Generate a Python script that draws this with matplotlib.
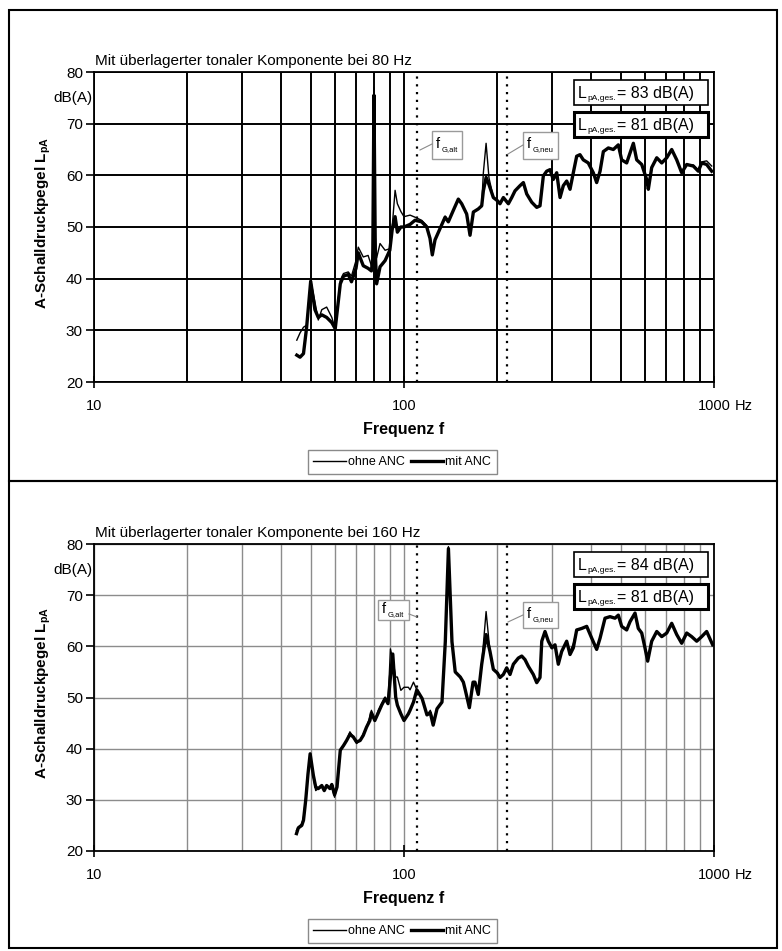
import matplotlib
matplotlib.use('Agg')
import matplotlib.pyplot as plt
from matplotlib.patches import Rectangle
from matplotlib.lines import Line2D
from matplotlib.ticker import FixedLocator, NullFormatter, MultipleLocator

plt.rcParams['font.family'] = ['Liberation Sans', 'DejaVu Sans']
plt.rcParams['mathtext.fontset'] = 'custom'
plt.rcParams['mathtext.rm'] = 'Liberation Sans'
plt.rcParams['mathtext.bf'] = 'Liberation Sans:bold'

W, H = 782, 951

# ---- data: upper chart (tonal component at 80 Hz) ----
top_freq = [45.1, 46.2, 47.4, 48.5, 50.0, 51.6, 52.9, 54.3, 56.3, 58.5,
            60.0, 62.3, 63.8, 66.1, 67.7, 70.0, 71.2, 73.9, 76.6, 78.5,
            79.3, 80.0, 80.8, 81.6, 83.7, 86.9, 90.0, 91.6, 93.6, 95.2,
            97.7, 100.0, 104.6, 108.5, 114.0, 118.4, 121.3, 123.4, 125.9, 130.7,
            135.7, 139.0, 144.2, 149.7, 153.5, 159.3, 163.3, 167.4, 173.7, 178.1,
            180.3, 184.0, 188.0, 194.2, 200.0, 204.0, 209.2, 217.1, 222.6, 228.1,
            236.7, 242.7, 248.8, 258.2, 268.0, 274.6, 281.5, 288.6, 295.8, 303.0,
            310.9, 318.7, 326.5, 334.8, 343.2, 351.7, 360.6, 369.5, 378.7, 393.0,
            408.0, 418.3, 429.0, 439.6, 456.2, 473.4, 491.3, 503.7, 522.8, 535.8,
            549.4, 563.1, 584.6, 606.5, 614.0, 629.5, 653.6, 678.3, 703.9, 730.4,
            758.1, 786.6, 816.5, 857.6, 890.0, 912.7, 946.9, 983.0]
top_ohne = [28.1, 29.5, 30.6, 31.0, 39.7, 35.5, 32.0, 34.0, 34.5, 32.5,
            30.3, 39.7, 41.0, 41.3, 40.5, 43.5, 46.1, 44.2, 44.5, 42.5,
            46.0, 77.0, 48.0, 44.0, 46.8, 45.5, 45.8, 50.0, 57.1, 54.5,
            53.0, 52.0, 52.3, 51.9, 51.3, 50.3, 48.0, 44.8, 47.5, 49.9,
            52.1, 51.2, 53.2, 55.4, 54.5, 52.7, 48.6, 52.9, 53.5, 54.3,
            60.5, 66.2, 59.5, 55.7, 55.1, 54.5, 55.7, 54.5, 55.7, 57.0,
            58.0, 58.6, 56.4, 54.8, 53.8, 54.1, 59.9, 60.8, 61.1, 59.2,
            60.5, 55.7, 58.0, 58.9, 57.3, 60.5, 63.7, 64.0, 63.0, 62.4,
            60.5, 58.6, 60.8, 64.6, 65.3, 65.0, 65.9, 63.0, 62.4, 64.3,
            66.2, 63.0, 62.1, 59.2, 57.3, 61.5, 63.4, 62.4, 63.4, 65.0,
            63.0, 60.5, 62.1, 62.0, 61.0, 62.6, 62.8, 61.8]
top_mit = [25.2, 24.8, 25.5, 30.5, 39.5, 34.0, 32.5, 33.0, 32.5, 31.5,
           30.3, 39.0, 40.5, 40.8, 39.4, 42.0, 45.0, 42.5, 42.0, 41.5,
           44.0, 75.5, 45.0, 39.0, 42.3, 43.5, 45.5, 49.5, 52.0, 49.0,
           50.0, 50.0, 50.5, 51.3, 51.0, 50.0, 47.8, 44.6, 47.5, 49.7,
           51.9, 51.0, 53.2, 55.4, 54.5, 52.5, 48.4, 52.9, 53.5, 54.1,
           57.0, 59.6, 58.2, 55.7, 55.1, 54.5, 55.7, 54.5, 55.7, 57.0,
           58.0, 58.6, 56.4, 54.8, 53.8, 54.1, 59.9, 60.8, 61.1, 59.2,
           60.5, 55.7, 58.0, 58.9, 57.3, 60.5, 63.7, 64.0, 63.0, 62.4,
           60.5, 58.6, 60.8, 64.6, 65.3, 65.0, 65.9, 63.0, 62.4, 64.3,
           66.2, 63.0, 62.1, 59.2, 57.3, 61.5, 63.4, 62.4, 63.4, 65.0,
           63.0, 60.5, 62.1, 61.8, 60.8, 62.4, 62.1, 60.8]

# ---- data: lower chart (tonal component at 160 Hz) ----
bot_freq = [45.0, 45.6, 46.8, 47.4, 48.2, 49.0, 49.8, 51.0, 51.9, 52.9,
            54.3, 55.3, 56.3, 57.7, 58.5, 59.7, 60.8, 62.3, 63.8, 65.3,
            66.9, 68.6, 70.3, 72.2, 73.9, 75.7, 77.6, 78.5, 80.5, 82.6,
            84.7, 86.9, 88.8, 90.4, 92.0, 94.0, 95.2, 97.7, 100.0, 103.3,
            104.6, 107.3, 110.0, 114.4, 118.6, 121.6, 124.2, 127.8, 132.6, 135.9,
            139.1, 142.8, 146.3, 151.9, 155.4, 157.6, 162.5, 167.0, 169.4, 173.6,
            178.1, 184.0, 189.4, 194.2, 200.0, 204.0, 209.2, 214.4, 219.8, 225.3,
            233.7, 239.8, 245.7, 251.8, 261.3, 268.0, 274.6, 278.2, 285.0, 292.1,
            300.0, 307.0, 314.6, 322.6, 334.8, 343.2, 351.7, 360.6, 374.4, 388.5,
            403.2, 418.3, 429.0, 445.1, 461.9, 479.3, 491.3, 503.7, 522.8, 535.8,
            556.2, 569.9, 584.6, 598.9, 611.0, 629.5, 653.6, 678.3, 703.9, 730.4,
            758.1, 786.6, 816.5, 847.0, 879.5, 912.7, 946.9, 990.0]
bot_ohne = [24.0, 24.7, 25.3, 26.6, 30.5, 35.0, 39.0, 34.4, 31.8, 32.2,
            32.5, 31.8, 32.8, 32.2, 32.5, 30.5, 32.5, 39.7, 40.6, 41.6,
            43.3, 42.3, 41.0, 41.6, 42.9, 44.2, 46.2, 47.5, 45.5, 47.5,
            48.8, 50.1, 48.8, 59.5, 57.5, 54.0, 54.0, 51.4, 52.0, 52.0,
            51.5, 53.0, 51.5, 49.8, 46.6, 47.5, 45.5, 47.8, 49.1, 60.9,
            79.5, 60.9, 55.0, 54.0, 53.0, 51.5, 48.0, 53.0, 53.0, 50.6,
            56.5, 66.8, 59.0, 55.5, 54.8, 53.9, 54.5, 55.8, 54.5, 56.5,
            57.7, 58.1, 57.4, 56.1, 54.5, 52.9, 53.9, 61.0, 62.9, 61.0,
            59.7, 60.3, 56.5, 59.0, 61.0, 59.0, 60.5, 63.2, 63.5, 63.9,
            61.6, 59.4, 61.6, 65.5, 65.8, 65.5, 66.1, 63.9, 63.2, 64.8,
            66.5, 63.5, 62.6, 59.7, 57.1, 61.0, 62.9, 61.9, 62.6, 64.5,
            62.3, 60.6, 62.6, 61.9, 61.0, 61.9, 62.9, 60.3]
bot_mit = [23.4, 24.5, 25.0, 26.0, 30.0, 35.0, 39.0, 34.8, 32.5, 32.2,
           32.8, 31.8, 32.8, 32.2, 33.0, 31.0, 32.5, 39.7, 40.6, 41.6,
           42.8, 42.3, 41.3, 41.6, 42.6, 44.2, 45.5, 47.0, 45.5, 47.0,
           48.5, 49.8, 48.8, 54.0, 58.5, 50.1, 48.5, 46.8, 45.5, 46.8,
           47.5, 49.1, 51.5, 49.8, 46.6, 47.0, 44.6, 47.8, 49.1, 60.9,
           79.1, 60.9, 55.0, 54.0, 53.0, 51.5, 48.0, 53.0, 53.0, 50.6,
           56.5, 62.3, 59.0, 55.5, 54.8, 53.9, 54.5, 55.8, 54.5, 56.5,
           57.7, 58.1, 57.4, 56.1, 54.5, 52.9, 53.9, 61.0, 62.9, 61.0,
           59.7, 60.3, 56.5, 59.0, 61.0, 58.4, 59.7, 63.2, 63.5, 63.9,
           61.6, 59.4, 61.6, 65.5, 65.8, 65.5, 66.1, 63.9, 63.2, 64.8,
           66.5, 63.5, 62.6, 59.7, 57.1, 61.0, 62.9, 61.9, 62.6, 64.5,
           62.3, 60.6, 62.6, 61.9, 61.0, 61.9, 62.9, 60.3]

f_g_alt = 110
f_g_neu = 215
x_ticks = [10, 100, 1000]
x_ticklabels = ['10', '100', '1000']
grid_freqs = [20, 30, 40, 50, 60, 70, 80, 90, 200, 300, 400, 500, 600, 700, 800, 900]


def fxy(x, y):
    return x / W, 1 - y / H


def sub_label(x, y, main, sub, rest, fs, sfs, dx_sub, dx_rest, dy_sub):
    # main letter, small subscript, then the rest of the text (baseline at y)
    fig.text(*fxy(x, y), main, fontsize=fs, ha='left', va='baseline')
    fig.text(*fxy(x + dx_sub, y + dy_sub), sub, fontsize=sfs, ha='left', va='baseline')
    if rest:
        fig.text(*fxy(x + dx_rest, y), rest, fontsize=fs, ha='left', va='baseline')


def draw_panel(ax_top, ax_bot, freq, ohne, mit, title, l_ohne, l_mit,
               grid_col, grid_lw, alt_box, neu_box, alt_lead, neu_lead):
    ax = fig.add_axes([94 / W, 1 - ax_bot / H, 620 / W, (ax_bot - ax_top) / H])
    ax.set_xscale('log')
    ax.set_xlim(10, 1000)
    ax.set_ylim(20, 80)
    ax.xaxis.set_major_locator(FixedLocator(x_ticks))
    ax.set_xticklabels(x_ticklabels)
    ax.xaxis.set_minor_locator(FixedLocator(grid_freqs))
    ax.xaxis.set_minor_formatter(NullFormatter())
    ax.yaxis.set_major_locator(MultipleLocator(10))
    ax.tick_params(axis='y', which='major', direction='out', length=6, width=1.2,
                   labelsize=11, pad=2)
    ax.tick_params(axis='x', which='major', direction='inout', length=8, width=1.2,
                   labelsize=10.5, pad=8)
    ax.tick_params(axis='x', which='minor', length=0)
    ax.grid(True, which='both', color=grid_col, lw=grid_lw)
    for sp in ax.spines.values():
        sp.set_linewidth(1.3)
        sp.set_color('black')
    ax.axvline(f_g_alt, color='black', lw=1.6, ls=(0, (1, 2.5)))
    ax.axvline(f_g_neu, color='black', lw=1.6, ls=(0, (1, 2.5)))
    l1, = ax.plot(freq, ohne, color='black', lw=1.0, label='ohne ANC')
    l2, = ax.plot(freq, mit, color='black', lw=2.4, label='mit ANC')
    fig.text(*fxy(735, ax_bot + 28), 'Hz', fontsize=10.5, va='baseline', ha='left')

    fig.text(*fxy(95, ax_top - 7), title, fontsize=11, ha='left', va='baseline')
    fig.text(*fxy(93, ax_top + 26), 'dB(A)', fontsize=11, ha='right', va='center')
    fig.text(*fxy(43, (ax_top + ax_bot) / 2 - 4),
             r'A-Schalldruckpegel L$_{\mathbf{pA}}$', fontsize=11,
             fontweight='bold', rotation=90, ha='center', va='center')
    fig.text(*fxy(404, ax_bot + 47), 'Frequenz f', fontsize=11.5,
             fontweight='bold', ha='center', va='center')

    # level boxes
    for (y0, y1, lw, txt) in [(ax_top + 8, ax_top + 33, 1.2, l_ohne),
                              (ax_top + 40, ax_top + 65, 2.2, l_mit)]:
        x0, yb = fxy(574, y1)
        fig.add_artist(Rectangle((x0, yb), 134 / W, (y1 - y0) / H,
                                 transform=fig.transFigure, fill=True,
                                 facecolor='white', edgecolor='black', lw=lw))
        sub_label(578, (y0 + y1) / 2 + 5.5, 'L', 'pA,ges.', '= ' + txt,
                  11.5, 6, 9.5, 39, 2.5)

    # cut-off frequency labels
    for (bx0, by0, bx1, by1, lab), lead in [(alt_box + ('G,alt',), alt_lead),
                                            (neu_box + ('G,neu',), neu_lead)]:
        x0, yb = fxy(bx0, by1)
        fig.add_artist(Rectangle((x0, yb), (bx1 - bx0) / W, (by1 - by0) / H,
                                 transform=fig.transFigure, facecolor='white',
                                 edgecolor='#9a9a9a', lw=1.0))
        sub_label(bx0 + 4, (by0 + by1) / 2 + 3, 'f', lab, '', 10.5, 5.5, 6, 0, 3)
        (ax0, ay0), (ax1, ay1) = fxy(*lead[0]), fxy(*lead[1])
        fig.add_artist(Line2D([ax0, ax1], [ay0, ay1], transform=fig.transFigure,
                              color='#8a8a8a', lw=0.8))

    fig.legend(handles=[l1, l2], loc='center', bbox_to_anchor=fxy(402, ax_bot + 80),
               ncol=2, fontsize=9, frameon=True, fancybox=False, edgecolor='#8a8a8a',
               handlelength=2.6, handletextpad=0.15, columnspacing=0.5,
               borderpad=0.45, framealpha=1)
    return ax


fig = plt.figure(figsize=(W / 100, H / 100), dpi=100)

draw_panel(72, 382, top_freq, top_ohne, top_mit,
           'Mit überlagerter tonaler Komponente bei 80 Hz', '83 dB(A)', '81 dB(A)',
           'black', 1.4, (432, 131, 462, 159), (523, 132, 558, 159),
           ((420, 150), (432, 144)), ((508, 154), (523, 145)))
draw_panel(544, 851, bot_freq, bot_ohne, bot_mit,
           'Mit überlagerter tonaler Komponente bei 160 Hz', '84 dB(A)', '81 dB(A)',
           '#8c8c8c', 1.0, (378, 600, 409, 620), (523, 602, 558, 628),
           ((409, 614), (417, 617)), ((508, 622), (523, 615)))

# outer frames
for (y0, y1) in [(10, 481), (481, 948)]:
    x0, yb = fxy(9, y1)
    fig.add_artist(Rectangle((x0, yb), 768 / W, (y1 - y0) / H,
                             transform=fig.transFigure, fill=False,
                             edgecolor='black', lw=1.5))

fig.savefig('out.png', dpi=100)
